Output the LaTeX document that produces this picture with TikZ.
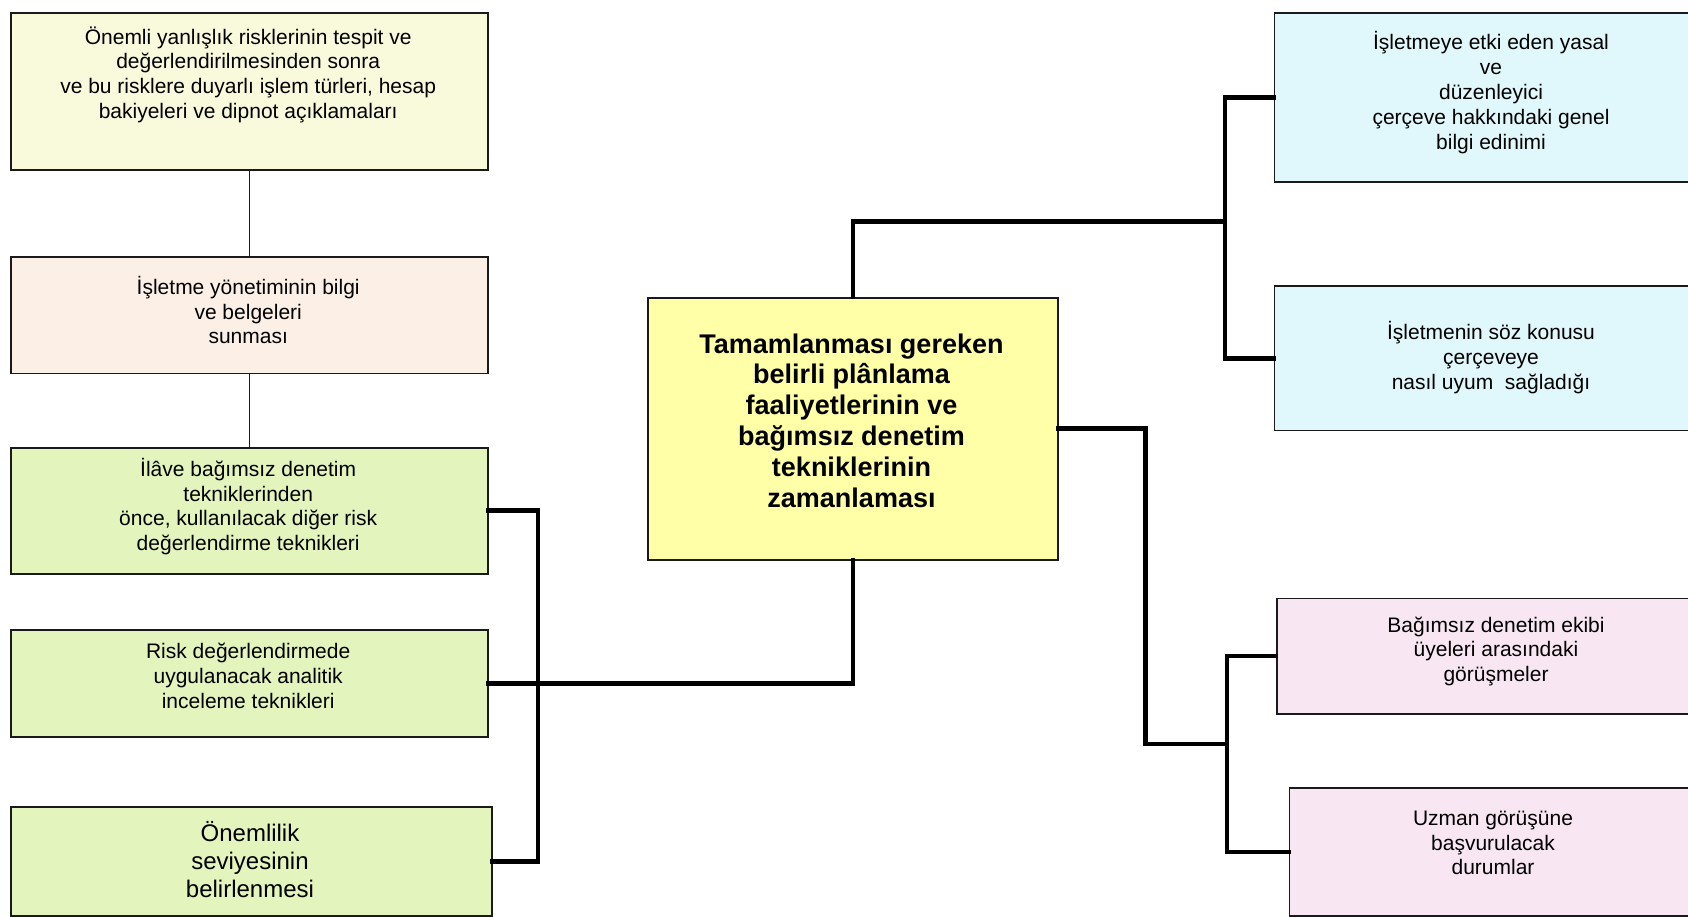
\documentclass[tikz,border=0pt]{standalone}
\usepackage{fontspec}
\setmainfont{Liberation Sans}
\definecolor{creamfill}{HTML}{F9F9DC}
\definecolor{linenfill}{HTML}{FCF0E6}
\definecolor{greenfill}{HTML}{E3F4BC}
\definecolor{yellowfill}{HTML}{FFFFA8}
\definecolor{cyanfill}{HTML}{E0F7FB}
\definecolor{pinkfill}{HTML}{F8E6F3}
\definecolor{edge}{HTML}{1A1A1A}
\tikzset{
  box/.style={draw=edge, line width=1.8pt, rectangle, inner sep=0pt, anchor=north west},
  txt/.style={align=center, inner sep=0pt, font=\fontsize{21}{24.8}\selectfont},
  thin link/.style={draw=edge, line width=1.2pt},
  thick link/.style={draw=black, line width=4.8pt, line join=miter, line cap=rect}
}
\begin{document}
\begin{tikzpicture}[x=1pt, y=-1pt]
\useasboundingbox (0,0) rectangle (1688,917);
\clip (0,0) rectangle (1688,917);

% left column
\node[box, fill=creamfill, minimum width=477pt, minimum height=157pt] (b1) at (9.7,11.8) {};
\node[box, fill=linenfill, minimum width=477pt, minimum height=116.5pt] (b2) at (9.7,256) {};
\node[box, fill=greenfill, minimum width=477pt, minimum height=126pt] (b3) at (9.7,446.8) {};
\node[box, fill=greenfill, minimum width=477pt, minimum height=107.6pt] (b4) at (9.7,628.7) {};
\node[box, fill=greenfill, minimum width=481pt, minimum height=109pt] (b5) at (9.7,806) {};

\node[txt] (t1) at (248.2,74.8) {Önemli yanlışlık risklerinin tespit ve\\değerlendirilmesinden sonra\\ve bu risklere duyarlı işlem türleri, hesap\\bakiyeleri ve dipnot açıklamaları};
\node[txt] (t2) at (248.2,310) {İşletme yönetiminin bilgi\\ve belgeleri\\ sunması};
\node[txt] (t3) at (248.2,506.5) {İlâve bağımsız denetim\\tekniklerinden\\önce, kullanılacak diğer risk\\değerlendirme teknikleri};
\node[txt] (t4) at (248.2,676) {Risk değerlendirmede\\uygulanacak analitik\\inceleme teknikleri};
\node[txt, font=\fontsize{24}{28}\selectfont] (t5) at (250,860) {Önemlilik\\seviyesinin\\belirlenmesi};

% central box
\node[box, fill=yellowfill, minimum width=410pt, minimum height=261.7pt] (c) at (647,297) {};
\node[txt, font=\fontsize{27}{30.8}\selectfont\bfseries] (tc) at (851.5,420.4) {Tamamlanması gereken\\belirli plânlama\\faaliyetlerinin ve\\bağımsız denetim\\tekniklerinin\\zamanlaması};

% right column
\node[box, fill=cyanfill, minimum width=430pt, minimum height=169.1pt] (r1) at (1273.5,11.8) {};
\node[box, fill=cyanfill, minimum width=430pt, minimum height=144.5pt] (r2) at (1273.5,285) {};
\node[box, fill=pinkfill, minimum width=430pt, minimum height=115.2pt] (r3) at (1275.7,597.5) {};
\node[box, fill=pinkfill, minimum width=430pt, minimum height=128pt] (r4) at (1288.6,787) {};

\node[txt] (s1) at (1491,92.6) {İşletmeye etki eden yasal\\ve\\düzenleyici\\çerçeve hakkındaki genel\\bilgi edinimi};
\node[txt] (s2) at (1491,357.4) {İşletmenin söz konusu\\çerçeveye\\nasıl uyum\ \ sağladığı};
\node[txt] (s3) at (1496,651.3) {Bağımsız denetim ekibi\\üyeleri arasındaki\\görüşmeler};
\node[txt] (s4) at (1493,843) {Uzman görüşüne\\başvurulacak\\durumlar};

% junction points
\coordinate (lx) at (538,0);
\coordinate (tj) at (1225,221.8);
\coordinate (bj) at (1145.4,743.9);
\coordinate (bk) at (1227,743.9);

% thin links in the left column
\draw[thin link] (b1.south) -- (b2.north);
\draw[thin link] (b2.south) -- (b3.north);

% left bracket to the central box
\draw[thick link] (b3.east) -- (b3.east -| lx) -- (b5.east -| lx) -- (b5.east);
\draw[thick link] (b4.east) -| (c.south);

% upper right bracket
\draw[thick link] (c.north) |- (tj);
\draw[thick link] (r1.west) -| (tj) |- (r2.west);

% lower right bracket
\draw[thick link] (c.east) -| (bj) -- (bk);
\draw[thick link] (r3.west) -| (bk) |- (r4.west);
\end{tikzpicture}
\end{document}
